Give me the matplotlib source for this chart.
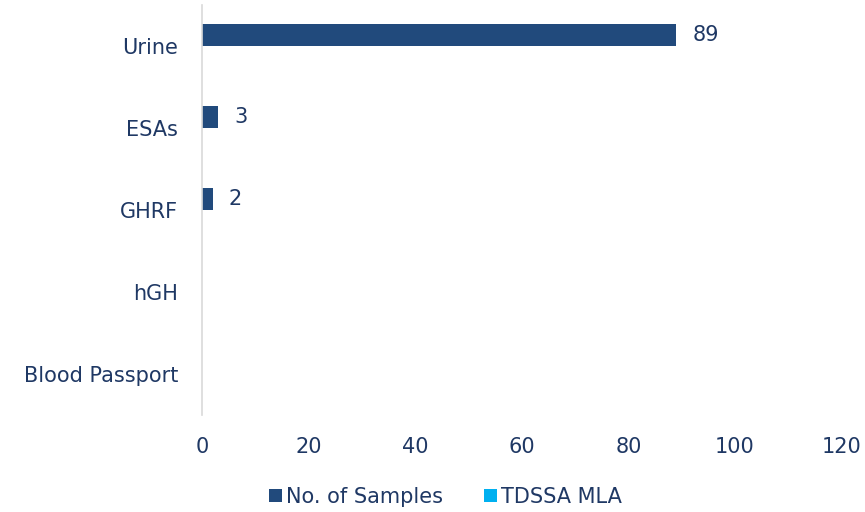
import matplotlib.pyplot as plt
import numpy as np

categories = ['Urine', 'ESAs', 'GHRF', 'hGH', 'Blood Passport']
samples = [89, 3, 2, 0, 0]
tdssa_mla = [0, 0, 0, 0, 0]
xticks = [0, 20, 40, 60, 80, 100, 120]

text_col = '#1F3864'
plt.rcParams['font.family'] = ['DejaVu Sans']
fs = 15

fig = plt.figure(figsize=(8.65, 5.12), dpi=100)
ax = fig.add_axes([0.2335, 0.189, 0.7395, 0.801])

y = np.arange(len(categories))
h = 0.27
b1 = ax.barh(y - h / 2, samples, height=h, color='#214A7C', label='No. of Samples')
b2 = ax.barh(y + h / 2, tdssa_mla, height=h, color='#00B0F0', label='TDSSA MLA')

# data labels only for the non-zero bars
for yy, v in zip(y, samples):
    if v > 0:
        ax.text(v + 3, yy - h / 2, str(v), va='center', ha='left',
                fontsize=fs, color=text_col)

ax.set_xlim(0, 120)
ax.set_ylim(len(categories) - 0.5, -0.5)
ax.set_xticks(xticks)
ax.set_yticks(y)
ax.set_yticklabels(categories)
ax.tick_params(axis='both', length=0, labelsize=fs, labelcolor=text_col)
ax.tick_params(axis='x', pad=16)
ax.tick_params(axis='y', pad=17)

for s in ['top', 'right', 'bottom']:
    ax.spines[s].set_visible(False)
ax.spines['left'].set_color('#D9D9D9')
ax.spines['left'].set_linewidth(1.2)

fig.legend(handles=[b1, b2], loc='center', bbox_to_anchor=(0.515, 0.03), ncol=2,
           frameon=False, fontsize=fs, labelcolor=text_col,
           handlelength=0.6, handleheight=0.6, handletextpad=0.2, columnspacing=2.0)

fig.savefig('out.png', dpi=100)
